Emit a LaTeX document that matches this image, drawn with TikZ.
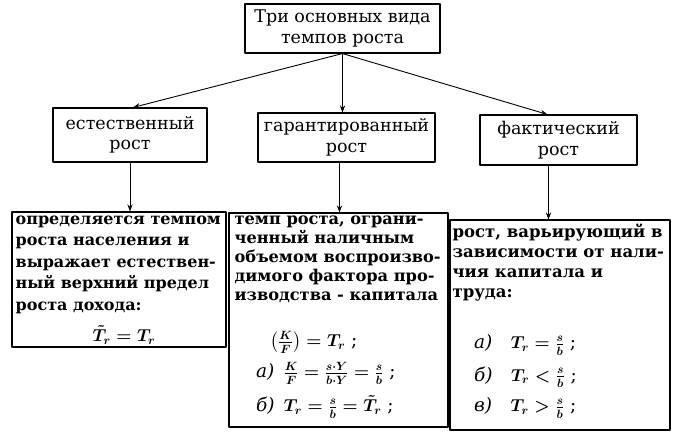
\documentclass[tikz,border=0pt]{standalone}
\usepackage{amsmath}
\usepackage{fontspec}
\setmainfont{DejaVu Serif}
\usetikzlibrary{arrows.meta,positioning}
\tikzset{
  every picture/.style={
    line join=round,
    line cap=round,
    >=Stealth,                      % one arrow tip everywhere
    x=1pt, y=-1pt,
  },
  box/.style={draw, line width=1.1pt, inner sep=0pt, align=center,
    font=\fontsize{17.5}{20.5}\selectfont},
  body/.style={anchor=north west, inner sep=0pt, align=left,
    font=\bfseries\fontsize{16}{21.5}\selectfont},
  formula/.style={inner sep=0pt, font=\boldmath\fontsize{18.5}{20}\selectfont},
  link/.style={->, line width=0.9pt},
}

\begin{document}
\begin{tikzpicture}
\useasboundingbox (0,0) rectangle (680,445);
% top level
\node[box, minimum width=195pt, minimum height=49pt] (top) at (342.5,28.5)
  {Три основных вида\\темпов роста};
% second level
\node[box, minimum width=154pt, minimum height=54pt] (nat) at (130,135)
  {естественный\\рост};
\node[box, minimum width=177pt, minimum height=49pt] (war) at (346.5,137.5)
  {гарантированный\\рост};
\node[box, minimum width=157pt, minimum height=50pt] (act) at (558.5,140)
  {фактический\\рост};
\draw[link] (top.south) -- ([xshift=3pt]nat.north);
\draw[link] (top.south) -- (top.south |- war.north);
\draw[link] (top.south) -- ([xshift=-11pt]act.north);
% third level
\node[box, minimum width=214pt, minimum height=135pt] (natd) at (119,279.5) {};
\node[box, minimum width=219pt, minimum height=214pt] (ward) at (338.5,320) {};
\node[box, minimum width=220pt, minimum height=210pt] (actd) at (560,325) {};
\draw[link] (nat.south) -- (nat.south |- natd.north);
\draw[link] ([xshift=-7pt]war.south) -- ([xshift=-7pt]war.south |- ward.north);
\draw[link] ([xshift=-10pt]act.south) -- ([xshift=-10pt]act.south |- actd.north);
% texts of the third level
\node[body] (natt) at ([shift={(4,4)}]natd.north west)
  {определяется темпом\\роста населения и\\выражает естествен-\\ный верхний предел\\роста дохода:};
\node[formula] (natf) at (124,335) {$\tilde{T}_r = T_r$};
\node[body, font=\bfseries\fontsize{16.2}{19}\selectfont] (wart)
  at ([shift={(6,3)}]ward.north west)
  {темп роста, ограни-\\ченный наличным\\объемом воспроизво-\\димого фактора про-\\изводства - капитала};
\node[formula, anchor=west] (warf1) at (270,342) {$\left(\frac{K}{F}\right) = T_r$ ;};
\node[formula, anchor=west] (warf2) at (256,373)
  {\textit{а)}\enspace $\frac{K}{F} = \frac{s\cdot Y}{b\cdot Y} = \frac{s}{b}$ ;};
\node[formula, anchor=west] (warf3) at (256,407)
  {\textit{б)}\enspace $T_r = \frac{s}{b} = \tilde{T}_r$ ;};
\node[body, font=\bfseries\fontsize{16.5}{20}\selectfont] (actt)
  at ([shift={(3,4)}]actd.north west)
  {рост, варьирующий в\\зависимости от нали-\\чия капитала и\\труда:};
\node[formula, anchor=west] (actf1) at (474,345) {\textit{а)}\quad $T_r = \frac{s}{b}$ ;};
\node[formula, anchor=west] (actf2) at (474,377) {\textit{б)}\quad $T_r < \frac{s}{b}$ ;};
\node[formula, anchor=west] (actf3) at (474,408) {\textit{в)}\quad $T_r > \frac{s}{b}$ ;};
\end{tikzpicture}
\end{document}
